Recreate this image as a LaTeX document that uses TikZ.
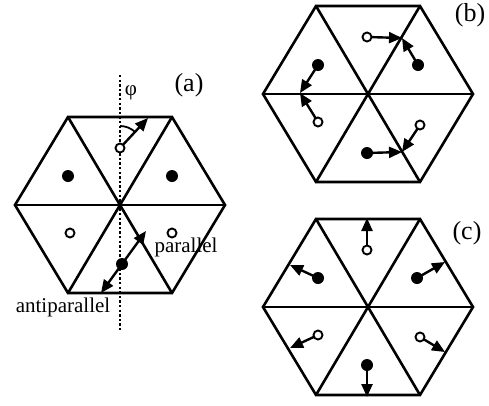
\documentclass[tikz,border=0pt]{standalone}
\usepackage{fontspec}
\setmainfont{Liberation Serif}
\usepackage{tikz}
\usetikzlibrary{arrows.meta}

\tikzset{
  hexline/.style={line width=2.6pt, line join=miter, line cap=round},
  fulldot/.style={circle, fill=black, inner sep=0pt, minimum size=12pt},
  opendot/.style={circle, draw=black, fill=white, line width=1.9pt,
    inner sep=0pt, minimum size=9pt},
  spinarrow/.style={-{Triangle[length=13pt,width=11pt]}, line width=2.4pt,
    shorten <=-1pt},
  axisline/.style={line width=2.4pt, dash pattern=on 2.4pt off 2.2pt},
  anglearc/.style={line width=1.8pt},
  panellabel/.style={font=\fontsize{26}{26}\selectfont, inner sep=0pt},
  textlabel/.style={font=\fontsize{21}{21}\selectfont, inner sep=0pt}
}

% hexagon of six triangles, corners named #1-r, #1-tr, ...
\newcommand{\hexframe}[1]{%
  \coordinate (#1-c)  at (0,0);
  \coordinate (#1-r)  at (105,0);
  \coordinate (#1-tr) at (52,-88);
  \coordinate (#1-tl) at (-52,-88);
  \coordinate (#1-l)  at (-105,0);
  \coordinate (#1-bl) at (-52,88);
  \coordinate (#1-br) at (52,88);
  \draw[hexline] (#1-r) -- (#1-tr) -- (#1-tl) -- (#1-l) -- (#1-bl) -- (#1-br) -- cycle;
  \draw[hexline] (#1-l) -- (#1-r);
  \draw[hexline] (#1-tl) -- (#1-br);
  \draw[hexline] (#1-tr) -- (#1-bl);
}

\begin{document}
\begin{tikzpicture}[x=1pt, y=-1pt]
  \useasboundingbox (0,0) rectangle (489,405);

  % ============ (a) ============
  \begin{scope}[shift={(120,205)}]
    \hexframe{a}
    \coordinate (a-dtop) at (0,-130);
    \coordinate (a-dbot) at (0,127);
    \draw[axisline] (a-dtop) -- (a-dbot);

    \node[fulldot] (a-dtl)  at (-52,-29) {};
    \node[fulldot] (a-dtr)  at (52,-29) {};
    \node[opendot] (a-dtop2) at (0,-57) {};
    \node[opendot] (a-dbl)  at (-50,28) {};
    \node[opendot] (a-dbr)  at (52,28) {};
    \node[fulldot] (a-dbot2) at (2,59) {};

    \coordinate (a-tip) at (28,-87);
    \coordinate (a-par) at (26,26);
    \coordinate (a-anti) at (-19,88);
    \draw[spinarrow] (a-dtop2) -- (a-tip);
    \draw[spinarrow] (a-dbot2) -- (a-par);
    \draw[spinarrow] (a-dbot2) -- (a-anti);

    \coordinate (a-phi) at (0,-79);
    \draw[anglearc] (a-phi) arc[start angle=-90, end angle=-46, radius=22];

    \node[panellabel] (a-lab) at (69,-120) {(a)};
    \node[textlabel] (a-philab) at (11,-112) {φ};
    \node[textlabel] (a-parlab) at (66,42) {parallel};
    \node[textlabel] (a-antilab) at (-57,102) {antiparallel};
  \end{scope}

  % ============ (b) ============
  \begin{scope}[shift={(368,94)}]
    \hexframe{b}
    \node[opendot] (b-dtop) at (-1,-57) {};
    \node[fulldot] (b-dtr)  at (50,-29) {};
    \node[fulldot] (b-dtl)  at (-50,-29) {};
    \node[opendot] (b-dbl)  at (-50,28) {};
    \node[fulldot] (b-dbot) at (-1,59) {};
    \node[opendot] (b-dbr)  at (52,31) {};

    \coordinate (b-m1) at (34,-56);
    \coordinate (b-m2) at (-68,-1);
    \coordinate (b-m3) at (34,58);
    \draw[spinarrow] (b-dtop) -- (b-m1);
    \draw[spinarrow] (b-dtr)  -- (b-m1);
    \draw[spinarrow] (b-dtl)  -- (b-m2);
    \draw[spinarrow] (b-dbl)  -- (b-m2);
    \draw[spinarrow] (b-dbot) -- (b-m3);
    \draw[spinarrow] (b-dbr)  -- (b-m3);

    \node[panellabel] (b-lab) at (102,-79) {(b)};
  \end{scope}

  % ============ (c) ============
  \begin{scope}[shift={(368,307)}]
    \hexframe{c}
    \node[opendot] (c-dtop) at (-1,-57) {};
    \node[fulldot] (c-dtr)  at (49,-29) {};
    \node[fulldot] (c-dtl)  at (-50,-29) {};
    \node[opendot] (c-dbl)  at (-50,28) {};
    \node[opendot] (c-dbr)  at (52,30) {};
    \node[fulldot] (c-dbot) at (-1,58) {};

    \coordinate (c-ttop) at (-1,-89);
    \coordinate (c-ttr)  at (77,-45);
    \coordinate (c-ttl)  at (-78,-42);
    \coordinate (c-tbl)  at (-78,41);
    \coordinate (c-tbr)  at (77,45);
    \coordinate (c-tbot) at (-1,90);
    \draw[spinarrow] (c-dtop) -- (c-ttop);
    \draw[spinarrow] (c-dtr)  -- (c-ttr);
    \draw[spinarrow] (c-dtl)  -- (c-ttl);
    \draw[spinarrow] (c-dbl)  -- (c-tbl);
    \draw[spinarrow] (c-dbr)  -- (c-tbr);
    \draw[spinarrow] (c-dbot) -- (c-tbot);

    \node[panellabel] (c-lab) at (99,-74) {(c)};
  \end{scope}

\end{tikzpicture}
\end{document}
